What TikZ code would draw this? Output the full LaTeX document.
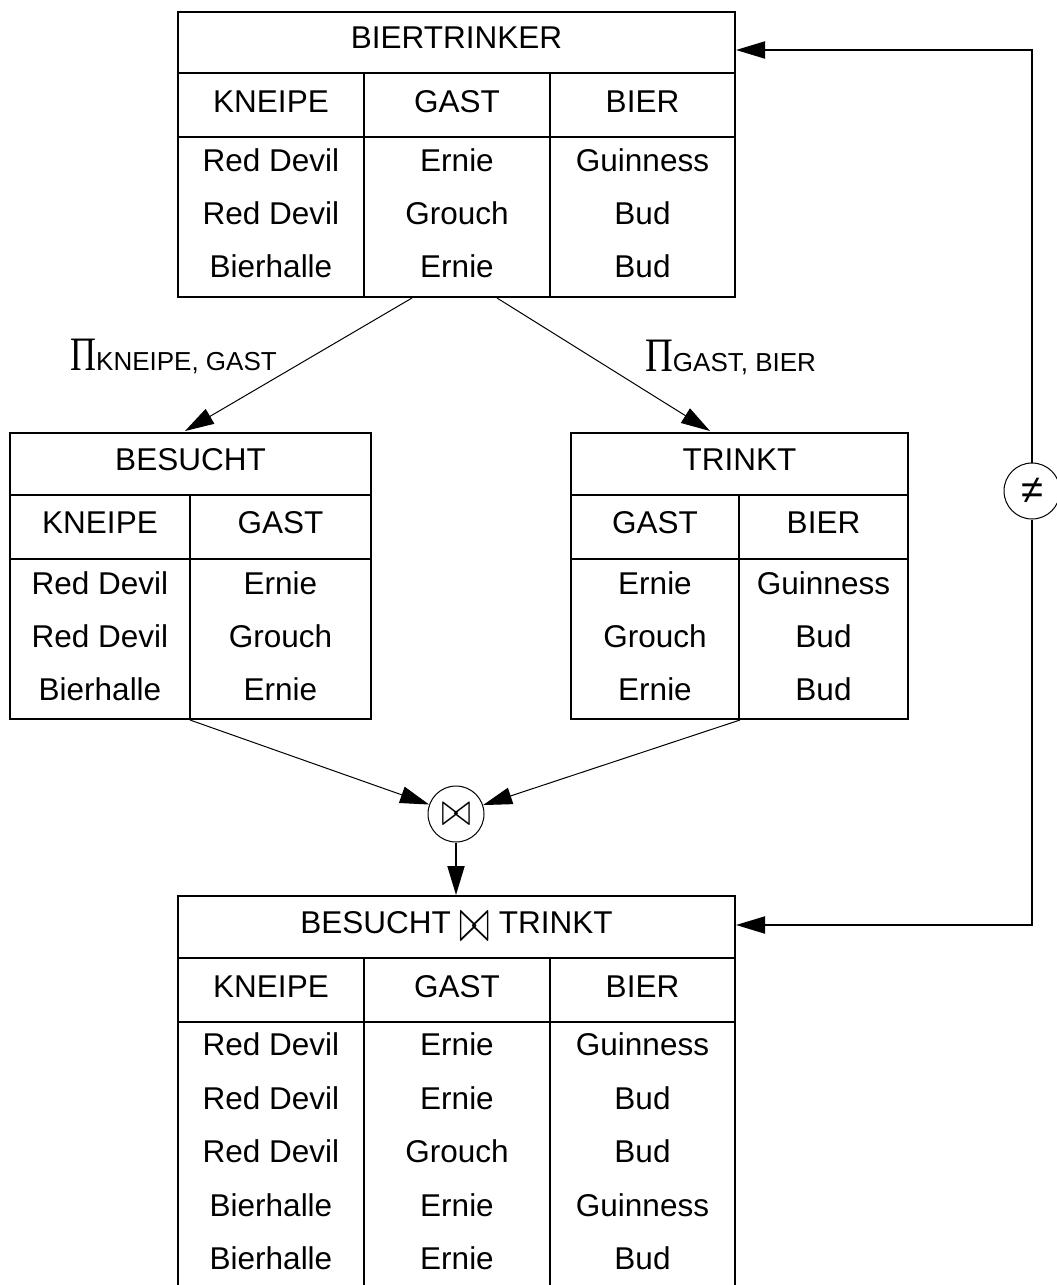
\documentclass[tikz,border=0pt]{standalone}
\usepackage{fontspec}
\usepackage{graphicx}
\setmainfont{Liberation Sans}
\newfontfamily\pifont{Liberation Serif}
\usetikzlibrary{arrows.meta}
\begin{document}
\begin{tikzpicture}[x=1pt,y=-1pt,
  every node/.style={font=\fontsize{31.5}{36}\selectfont, inner sep=0pt},
  cell/.style={text height=22.6pt, text depth=0pt, anchor=center},
  frame/.style={draw, line width=2pt, rectangle, inner sep=0pt},
  rule/.style={line width=2pt},
  conn/.style={line width=1pt, -{Triangle[length=29pt,width=17pt]}},
  connb/.style={line width=2pt, -{Triangle[length=29pt,width=17pt]}},
  opcirc/.style={draw, circle, line width=1pt, minimum size=56pt},
  pilabel/.style={anchor=base west}]
\useasboundingbox (0,0) rectangle (1057,1285);

% ---------- BIERTRINKER ----------
\node[frame, minimum width=557pt, minimum height=285pt] (bt) at (456.5,154.5) {};
\draw[rule] (178,73) -- (735,73);
\draw[rule] (178,137) -- (735,137);
\draw[rule] (364,73) -- (364,297);
\draw[rule] (550,73) -- (550,297);
\node[cell] (bt0) at (456.5,37) {BIERTRINKER};
\node[cell] (bth1) at (271,101) {KNEIPE};
\node[cell] (bth2) at (457,101) {GAST};
\node[cell] (bth3) at (642.5,101) {BIER};
\node[cell] (bt11) at (271,160) {Red Devil};
\node[cell] (bt12) at (457,160) {Ernie};
\node[cell] (bt13) at (642.5,160) {Guinness};
\node[cell] (bt21) at (271,213) {Red Devil};
\node[cell] (bt22) at (457,213) {Grouch};
\node[cell] (bt23) at (642.5,213) {Bud};
\node[cell] (bt31) at (271,266) {Bierhalle};
\node[cell] (bt32) at (457,266) {Ernie};
\node[cell] (bt33) at (642.5,266) {Bud};

% ---------- BESUCHT ----------
\node[frame, minimum width=361pt, minimum height=286pt] (bs) at (190.5,576) {};
\draw[rule] (10,495) -- (371,495);
\draw[rule] (10,559) -- (371,559);
\draw[rule] (190,495) -- (190,719);
\node[cell] (bs0) at (190.5,459) {BESUCHT};
\node[cell] (bsh1) at (100,522.5) {KNEIPE};
\node[cell] (bsh2) at (280.5,522.5) {GAST};
\node[cell] (bs11) at (100,583) {Red Devil};
\node[cell] (bs12) at (280.5,583) {Ernie};
\node[cell] (bs21) at (100,636) {Red Devil};
\node[cell] (bs22) at (280.5,636) {Grouch};
\node[cell] (bs31) at (100,689) {Bierhalle};
\node[cell] (bs32) at (280.5,689) {Ernie};

% ---------- TRINKT ----------
\node[frame, minimum width=337pt, minimum height=286pt] (tr) at (739.5,576) {};
\draw[rule] (571,495) -- (908,495);
\draw[rule] (571,559) -- (908,559);
\draw[rule] (739,495) -- (739,719);
\node[cell] (tr0) at (739.5,459) {TRINKT};
\node[cell] (trh1) at (655,522.5) {GAST};
\node[cell] (trh2) at (823.5,522.5) {BIER};
\node[cell] (tr11) at (655,583) {Ernie};
\node[cell] (tr12) at (823.5,583) {Guinness};
\node[cell] (tr21) at (655,636) {Grouch};
\node[cell] (tr22) at (823.5,636) {Bud};
\node[cell] (tr31) at (655,689) {Ernie};
\node[cell] (tr32) at (823.5,689) {Bud};

% ---------- BESUCHT JOIN TRINKT ----------
\node[frame, minimum width=557pt, minimum height=396pt] (jn) at (456.5,1094) {};
\draw[rule] (178,958) -- (735,958);
\draw[rule] (178,1022) -- (735,1022);
\draw[rule] (364,958) -- (364,1292);
\draw[rule] (550,958) -- (550,1292);
\node[cell] (jn0) at (456.5,922.5) {BESUCHT \raisebox{-7.5pt}{\scalebox{1.5}[2.5]{\fontsize{36}{36}\selectfont$\bowtie$}} TRINKT};
\node[cell] (jnh1) at (271,986) {KNEIPE};
\node[cell] (jnh2) at (457,986) {GAST};
\node[cell] (jnh3) at (642.5,986) {BIER};
\node[cell] (jn11) at (271,1044) {Red Devil};
\node[cell] (jn12) at (457,1044) {Ernie};
\node[cell] (jn13) at (642.5,1044) {Guinness};
\node[cell] (jn21) at (271,1098) {Red Devil};
\node[cell] (jn22) at (457,1098) {Ernie};
\node[cell] (jn23) at (642.5,1098) {Bud};
\node[cell] (jn31) at (271,1151) {Red Devil};
\node[cell] (jn32) at (457,1151) {Grouch};
\node[cell] (jn33) at (642.5,1151) {Bud};
\node[cell] (jn41) at (271,1205) {Bierhalle};
\node[cell] (jn42) at (457,1205) {Ernie};
\node[cell] (jn43) at (642.5,1205) {Guinness};
\node[cell] (jn51) at (271,1258) {Bierhalle};
\node[cell] (jn52) at (457,1258) {Ernie};
\node[cell] (jn53) at (642.5,1258) {Bud};

% ---------- operators ----------
\node[opcirc] (jc) at (456,814) {\scalebox{1.45}[1.9]{\fontsize{32}{32}\selectfont$\bowtie$}};
\node[opcirc] (nq) at (1032,491) {\fontsize{40}{40}\selectfont ≠};

% ---------- projection labels ----------
\node[pilabel] (p1) at (70,370) {{\pifont\fontsize{48}{48}\selectfont\scalebox{0.75}[1]{Π}}{\fontsize{26}{30}\selectfont KNEIPE, GAST}};
\node[pilabel] (p2) at (645,371) {{\pifont\fontsize{48}{48}\selectfont\scalebox{0.8}[1]{Π}}{\fontsize{26}{30}\selectfont GAST, BIER}};

% ---------- connectors ----------
\coordinate (btL) at (412,298);
\coordinate (btR) at (497,298);
\coordinate (bsT) at (185,431);
\coordinate (trT) at (710,431);
\coordinate (bsB) at (190,720);
\coordinate (trB) at (740,720);
\coordinate (btA) at (736,50);
\coordinate (jnA) at (736,925);

\draw[conn] (btL) -- (bsT);
\draw[conn] (btR) -- (trT);
\draw[conn] (bsB) -- (jc);
\draw[conn] (trB) -- (jc);
\draw[connb] (jc) -- (jn.north -| jc);
\draw[connb] (nq) |- (btA);
\draw[connb] (nq) |- (jnA);
\end{tikzpicture}
\end{document}
